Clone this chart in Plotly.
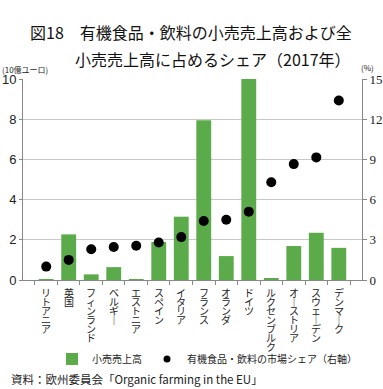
import plotly.graph_objects as go

categories = ["リトアニア", "英国", "フィンランド", "ベルギー", "エストニア", "スペイン", "イタリア",
              "フランス", "オランダ", "ドイツ", "ルクセンブルク", "オーストリア", "スウェーデン", "デンマーク"]
retail_sales = [0.05, 2.27, 0.28, 0.64, 0.02, 1.89, 3.15, 7.95, 1.19, 10.0, 0.08, 1.69, 2.35, 1.6]
market_share = [1.0, 1.5, 2.3, 2.46, 2.55, 2.8, 3.2, 4.4, 4.5, 5.1, 7.3, 8.65, 9.15, 13.4]
left_ticks = [0, 2, 4, 6, 8, 10]
right_ticks = [0, 3, 6, 9, 12, 15]

FONT = "Noto Sans CJK JP"
W, H = 383, 389
ML, MR, MT, MB = 23, 21, 79, 109
PW, PH = W - ML - MR, H - MT - MB

def px(x):  # pixel x -> paper
    return (x - ML) / PW

def py(y):  # pixel y -> paper
    return (H - MB - y) / PH

fig = go.Figure()
fig.add_trace(go.Bar(
    x=categories, y=retail_sales, name="小売売上高",
    marker=dict(color="#5cab4a", line=dict(width=0)), yaxis="y",
))
fig.add_trace(go.Scatter(
    x=categories, y=market_share, name="有機食品・飲料の市場シェア（右軸）",
    mode="markers", marker=dict(color="black", size=10), yaxis="y2", showlegend=False,
))
# legend entry with a smaller symbol, as in the original legend
fig.add_trace(go.Scatter(
    x=[None], y=[None], name="有機食品・飲料の市場シェア（右軸）",
    mode="markers", marker=dict(color="black", size=7), yaxis="y2",
))

annotations = [
    dict(text="図18　有機食品・飲料の小売売上高および全", x=px(191), y=py(18), xref="paper", yref="paper",
         showarrow=False, font=dict(size=16, family=FONT, color="#111")),
    dict(text="小売売上高に占めるシェア（2017年）", x=px(213), y=py(45), xref="paper", yref="paper",
         showarrow=False, font=dict(size=16, family=FONT, color="#111")),
    dict(text="(10億ユーロ)", x=px(0), y=py(62), xref="paper", yref="paper", xanchor="left",
         showarrow=False, font=dict(size=8, family=FONT, color="#222")),
    dict(text="(%)", x=px(367), y=py(60), xref="paper", yref="paper", xanchor="center",
         showarrow=False, font=dict(size=8, family=FONT, color="#222")),
    dict(text="資料：欧州委員会「Organic farming in the EU」", x=px(9), y=py(379),
         xref="paper", yref="paper", xanchor="left", yanchor="middle",
         showarrow=False, font=dict(size=11.5, family=FONT, color="#222")),
]

# vertical (stacked) category labels, one glyph per line
for cat in categories:
    for i, ch in enumerate(cat):
        glyph = "｜" if ch == "ー" else ch
        annotations.append(dict(
            text=glyph, x=cat, xref="x", y=py(292 + i * 9.1), yref="paper",
            showarrow=False, xanchor="center", yanchor="middle",
            font=dict(size=10, family=FONT, color="#222"),
        ))

fig.update_layout(
    width=W, height=H,
    margin=dict(l=ML, r=MR, t=MT, b=MB, autoexpand=False),
    paper_bgcolor="white", plot_bgcolor="white",
    font=dict(family=FONT, color="#222"),
    bargap=0.34,
    showlegend=True,
    legend=dict(orientation="h", x=px(52), xanchor="left", y=py(359), yanchor="middle",
                font=dict(size=10, family=FONT), itemwidth=30, entrywidth=0,
                bgcolor="rgba(0,0,0,0)"),
    xaxis=dict(
        type="category", automargin=False,
        tickvals=categories, ticktext=["" for _ in categories],
        tickson="boundaries", ticks="outside", ticklen=4, tickcolor="#888",
        showline=True, linecolor="#888", linewidth=1,
        showgrid=False,
    ),
    yaxis=dict(
        range=[0, 10], tickvals=left_ticks, showgrid=True, gridcolor="#c8c8c8", automargin=False,
        showline=True, linecolor="#888", ticks="outside", ticklen=3, tickcolor="#888",
        tickfont=dict(size=13, family="Liberation Sans", color="#222"), zeroline=False,
    ),
    yaxis2=dict(
        range=[0, 15], tickvals=right_ticks, overlaying="y", side="right", automargin=False,
        showgrid=False, showline=True, linecolor="#888", ticks="outside", ticklen=4,
        tickcolor="#888", tickfont=dict(size=13, family="Liberation Serif", color="#222"),
        zeroline=False,
    ),
    annotations=annotations,
)

fig.write_html("out.html", config={"displayModeBar": False},
               post_script="document.body.style.margin='0';document.body.style.overflow='hidden';")
